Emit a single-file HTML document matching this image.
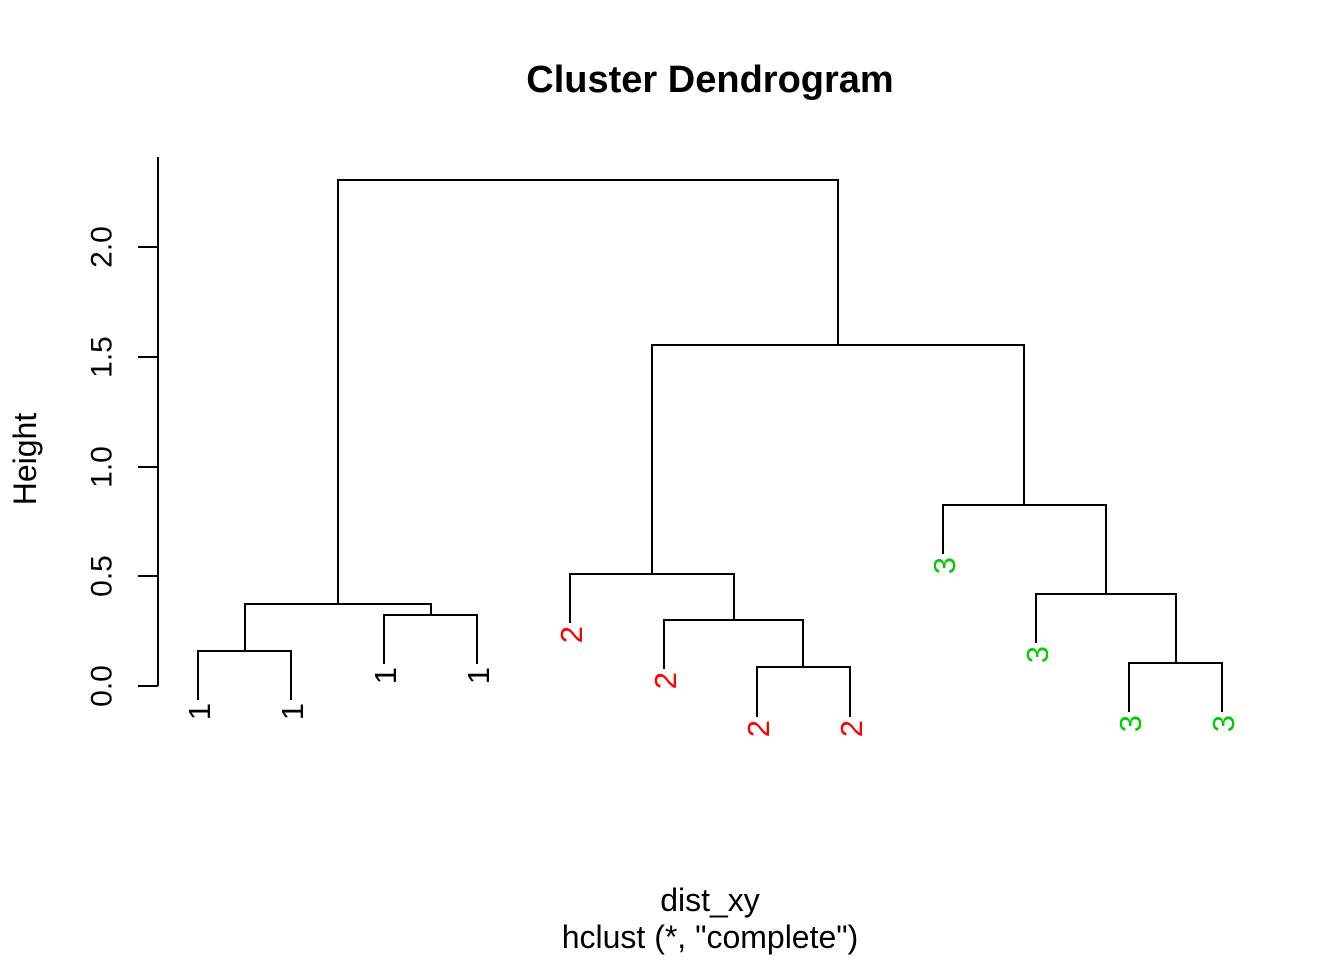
<!DOCTYPE html>
<html><head><meta charset="utf-8"><style>html,body{margin:0;padding:0;background:#fff}svg{display:block}</style></head>
<body>
<svg width="1344" height="960" xmlns="http://www.w3.org/2000/svg" font-family="Liberation Sans, Arial, sans-serif">
<text x="710" y="92" font-size="38" font-weight="bold" text-anchor="middle">Cluster Dendrogram</text>
<g stroke="#000" stroke-width="2" fill="none">
<path d="M158 157V686M138 686H158M138 576H158M138 467H158M138 357H158M138 247H158"/>
<path d="M338 604V180H838V345"/>
<path d="M652 574V345H1024V505"/>
<path d="M245 651V604H431V615"/>
<path d="M198 700V651H291V700"/>
<path d="M384 664V615H477V664"/>
<path d="M570 623V574H734V620"/>
<path d="M664 669V620H803V667"/>
<path d="M757 717V667H850V717"/>
<path d="M943 554V505H1106V594"/>
<path d="M1036 643V594H1176V663"/>
<path d="M1129 712V663H1222V712"/>
</g>
<g font-size="30" text-anchor="middle">
<text transform="translate(100,686) rotate(-90)" dy="0.38em">0.0</text>
<text transform="translate(100,576) rotate(-90)" dy="0.38em">0.5</text>
<text transform="translate(100,467) rotate(-90)" dy="0.38em">1.0</text>
<text transform="translate(100,357) rotate(-90)" dy="0.38em">1.5</text>
<text transform="translate(100,247) rotate(-90)" dy="0.38em">2.0</text>
<text transform="translate(24,459) rotate(-90)" dy="0.38em" font-size="32">Height</text>
</g>
<g font-size="31" text-anchor="end">
<text transform="translate(198,703) rotate(-90)" dy="0.38em">1</text>
<text transform="translate(291,703) rotate(-90)" dy="0.38em">1</text>
<text transform="translate(384,667) rotate(-90)" dy="0.38em">1</text>
<text transform="translate(477,667) rotate(-90)" dy="0.38em">1</text>
<g fill="#ff0000">
<text transform="translate(570,626) rotate(-90)" dy="0.38em">2</text>
<text transform="translate(664,672) rotate(-90)" dy="0.38em">2</text>
<text transform="translate(757,720) rotate(-90)" dy="0.38em">2</text>
<text transform="translate(850,720) rotate(-90)" dy="0.38em">2</text>
</g>
<g fill="#00cd00">
<text transform="translate(943,557) rotate(-90)" dy="0.38em">3</text>
<text transform="translate(1036,646) rotate(-90)" dy="0.38em">3</text>
<text transform="translate(1129,715) rotate(-90)" dy="0.38em">3</text>
<text transform="translate(1222,715) rotate(-90)" dy="0.38em">3</text>
</g>
</g>
<text x="710" y="911" font-size="32" text-anchor="middle">dist_xy</text>
<text x="710" y="948" font-size="32" text-anchor="middle">hclust (*, "complete")</text>
</svg>
</body></html>
